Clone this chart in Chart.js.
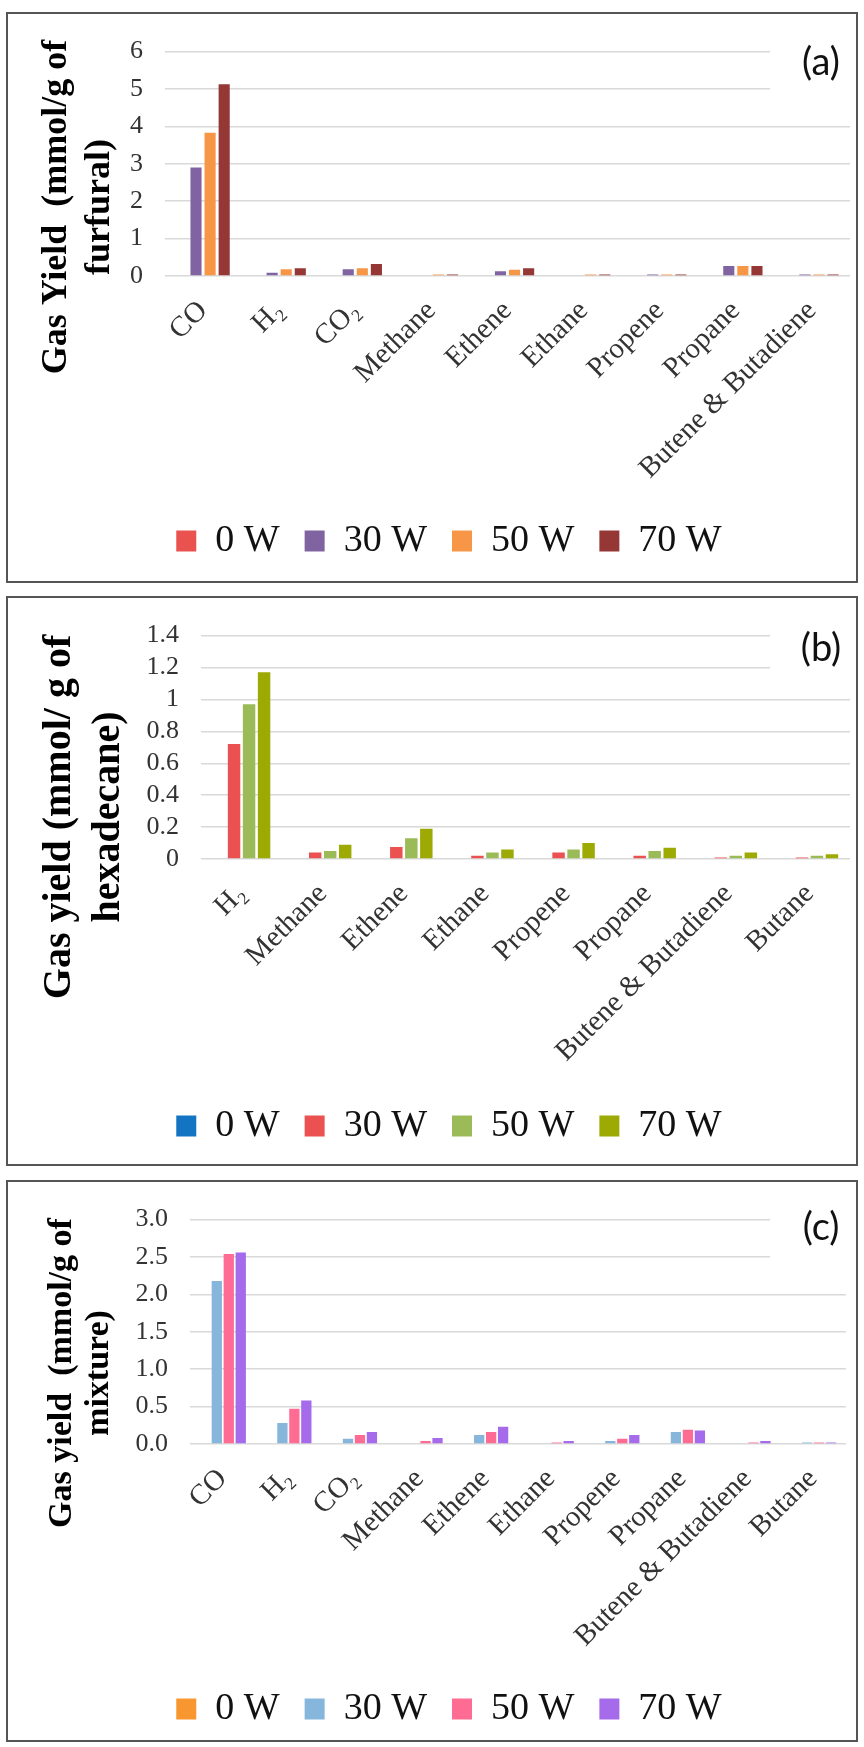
<!DOCTYPE html>
<html><head><meta charset="utf-8">
<script src="https://cdn.jsdelivr.net/npm/chart.js@4.4.0/dist/chart.umd.min.js"></script>
<style>
html,body{margin:0;padding:0;background:#fff;}
body{width:864px;height:1747px;position:relative;overflow:hidden;}
.panel{position:absolute;left:6px;width:852px;box-sizing:border-box;border:2px solid #555;background:#fff;}
.panel canvas{display:block;}
</style></head><body>
<div class="panel" style="top:12px;height:571px"><canvas id="ca" width="848" height="567"></canvas></div>
<div class="panel" style="top:596px;height:570px"><canvas id="cb" width="848" height="566"></canvas></div>
<div class="panel" style="top:1180px;height:562px"><canvas id="cc" width="848" height="558"></canvas></div>
<script>
// ---------- data ----------
const seriesNames = ['0 W', '30 W', '50 W', '70 W'];

const categoriesA = ['CO', 'H\u2082', 'CO\u2082', 'Methane', 'Ethene', 'Ethane', 'Propene', 'Propane', 'Butene & Butadiene'];
const a0W  = [0, 0, 0, 0, 0, 0, 0, 0, 0];
const a30W = [2.90, 0.09, 0.18, 0, 0.13, 0, 0.04, 0.27, 0.04];
const a50W = [3.83, 0.18, 0.21, 0.04, 0.17, 0.04, 0.04, 0.27, 0.04];
const a70W = [5.13, 0.21, 0.32, 0.04, 0.21, 0.04, 0.04, 0.27, 0.04];
const ticksA = ['0', '1', '2', '3', '4', '5', '6'];

const categoriesB = ['H\u2082', 'Methane', 'Ethene', 'Ethane', 'Propene', 'Propane', 'Butene & Butadiene', 'Butane'];
const b0W  = [0, 0, 0, 0, 0, 0, 0, 0];
const b30W = [0.72, 0.04, 0.075, 0.02, 0.04, 0.02, 0.01, 0.01];
const b50W = [0.97, 0.05, 0.13, 0.04, 0.06, 0.05, 0.02, 0.02];
const b70W = [1.17, 0.09, 0.19, 0.06, 0.10, 0.07, 0.04, 0.03];
const ticksB = ['0', '0.2', '0.4', '0.6', '0.8', '1', '1.2', '1.4'];

const categoriesC = ['CO', 'H\u2082', 'CO\u2082', 'Methane', 'Ethene', 'Ethane', 'Propene', 'Propane', 'Butene & Butadiene', 'Butane'];
const c0W  = [0, 0, 0, 0, 0, 0, 0, 0, 0, 0];
const c30W = [2.18, 0.28, 0.07, 0.01, 0.12, 0.01, 0.04, 0.16, 0.01, 0.02];
const c50W = [2.54, 0.47, 0.12, 0.04, 0.16, 0.02, 0.07, 0.19, 0.02, 0.02];
const c70W = [2.56, 0.58, 0.16, 0.08, 0.23, 0.04, 0.12, 0.18, 0.04, 0.02];
const ticksC = ['0.0', '0.5', '1.0', '1.5', '2.0', '2.5', '3.0'];

// ---------- drawing ----------
const SERIF = "'Liberation Serif', 'Times New Roman', serif";
Chart.defaults.font.family = SERIF;

function decorPlugin(o) {
  return {
    id: 'decor',
    beforeDatasetsDraw(chart) {
      const ctx = chart.ctx;
      ctx.save();
      ctx.fillStyle = '#fff';
      ctx.fillRect(762, 14, chart.width - 762, 66);
      ctx.fillStyle = '#111';
      ctx.textAlign = 'center';
      ctx.textBaseline = 'middle';
      ctx.font = "38px Lato, 'Open Sans', sans-serif";
      ctx.fillText(o.letter, 813, o.letterY);
      ctx.fillStyle = '#000';
      ctx.font = 'bold ' + o.titleSize + 'px ' + SERIF;
      o.titleLines.forEach((t, i) => {
        ctx.save();
        ctx.translate(o.titleX[i], o.titleY);
        ctx.rotate(-Math.PI / 2);
        ctx.fillText(t, 0, 0);
        ctx.restore();
      });
      ctx.restore();
    }
  };
}

function makeChart(id, cfg) {
  const PADL = 40, PADR = 6, PADT = 27;
  return new Chart(document.getElementById(id), {
    type: 'bar',
    data: {
      labels: cfg.labels,
      datasets: cfg.series.map((s, i) => ({
        label: seriesNames[i], data: s, backgroundColor: cfg.colors[i], borderWidth: 0,
        categoryPercentage: cfg.catPct, barPercentage: cfg.barPct
      }))
    },
    options: {
      responsive: false, animation: false,
      layout: { padding: { left: PADL, right: PADR, top: PADT, bottom: cfg.padB } },
      plugins: {
        legend: { position: 'bottom', labels: { boxWidth: 20, boxHeight: 21, padding: 25, color: '#111', font: { size: 38, family: SERIF } } },
        tooltip: { enabled: false }
      },
      scales: {
        x: {
          grid: { display: false, drawTicks: false }, border: { display: false },
          ticks: { autoSkip: false, minRotation: 45, maxRotation: 45, padding: 18, color: '#333', font: { size: 29, family: SERIF } },
          afterFit(s) { s.height = s.chart.height - cfg.padB - s.chart.legend.height - cfg.plotBottom; }
        },
        y: {
          min: 0, max: cfg.max,
          ticks: { autoSkip: false, stepSize: cfg.step, padding: 22, color: '#333', font: { size: 26, family: SERIF }, callback: (v, i) => cfg.tickLabels[i] },
          grid: { color: '#d9d9d9', lineWidth: 1.5, drawTicks: false }, border: { display: false },
          afterFit(s) { s.width = cfg.plotLeft - PADL; }
        }
      }
    },
    plugins: [decorPlugin(cfg.decor)]
  });
}

makeChart('ca', {
  labels: categoriesA, series: [a0W, a30W, a50W, a70W],
  colors: ['#E9524E', '#8064A2', '#F79646', '#953735'],
  catPct: 0.74, barPct: 0.79, max: 6, step: 1, tickLabels: ticksA,
  plotLeft: 157, plotBottom: 262, padB: 11,
  decor: { letter: '(a)', letterY: 49, titleSize: 36, titleLines: ['Gas Yield  (mmol/g of', 'furfural)'], titleX: [49, 92], titleY: 193 }
});
makeChart('cb', {
  labels: categoriesB, series: [b0W, b30W, b50W, b70W],
  colors: ['#1474C4', '#EB5150', '#9BBB59', '#9DAA04'],
  catPct: 0.74, barPct: 0.83, max: 1.4, step: 0.2, tickLabels: ticksB,
  plotLeft: 193, plotBottom: 261, padB: 9,
  decor: { letter: '(b)', letterY: 51, titleSize: 40, titleLines: ['Gas yield (mmol/ g of', 'hexadecane)'], titleX: [52, 101], titleY: 219 }
});
makeChart('cc', {
  labels: categoriesC, series: [c0W, c30W, c50W, c70W],
  colors: ['#F8962F', '#87B6DD', '#FF6C93', '#A66BEB'],
  catPct: 0.73, barPct: 0.86, max: 3, step: 0.5, tickLabels: ticksC,
  plotLeft: 182, plotBottom: 262, padB: 2,
  decor: { letter: '(c)', letterY: 46, titleSize: 34, titleLines: ['Gas yield  (mmol/g of', 'mixture)'], titleX: [54, 91], titleY: 191 }
});
</script>
</body></html>
